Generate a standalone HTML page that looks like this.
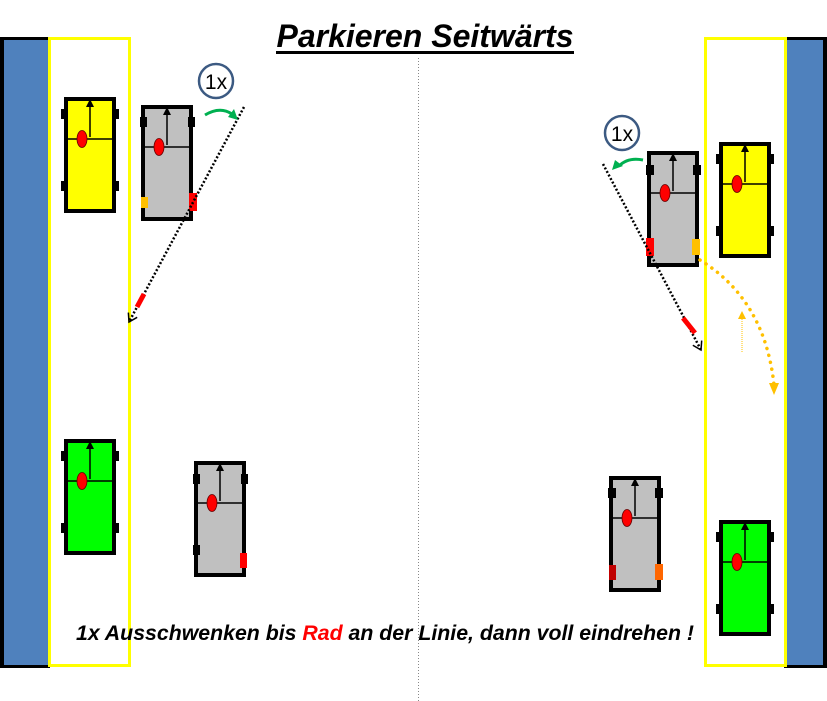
<!DOCTYPE html>
<html><head><meta charset="utf-8"><style>
html,body{margin:0;padding:0;background:#fff;}
svg{display:block;}
</style></head><body>
<svg width="827" height="701" viewBox="0 0 827 701" xmlns="http://www.w3.org/2000/svg">
<defs>
<g id="det">
 <line x1="2" y1="42" x2="50" y2="42" stroke="#000" stroke-width="1.5"/>
 <line x1="26" y1="40" x2="26" y2="9" stroke="#000" stroke-width="1.5"/>
 <polygon points="26,2 22,10 30,10" fill="#000"/>
 <ellipse cx="18" cy="42" rx="5" ry="8.5" fill="#f00" stroke="#600" stroke-width="0.8"/>
</g>
<g id="wh">
 <rect x="-3" y="12" width="7" height="10" fill="#000"/>
 <rect x="48" y="12" width="7" height="10" fill="#000"/>
 <rect x="-3" y="84" width="7" height="10" fill="#000"/>
 <rect x="48" y="84" width="7" height="10" fill="#000"/>
</g>
<marker id="ah" markerWidth="12" markerHeight="12" refX="9" refY="6" orient="auto" markerUnits="userSpaceOnUse">
 <path d="M1,1 L9,6 L1,11" fill="none" stroke="#000" stroke-width="1.5"/>
</marker>
</defs>

<rect x="0" y="37" width="50" height="631" fill="#000"/>
<rect x="4" y="40" width="44" height="625" fill="#4f81bd"/>
<rect x="49.5" y="38.5" width="80" height="627" fill="#fff" stroke="#ff0" stroke-width="3"/>
<rect x="784" y="37" width="43" height="631" fill="#000"/>
<rect x="786" y="40" width="37" height="625" fill="#4f81bd"/>
<rect x="705.5" y="38.5" width="80" height="627" fill="#fff" stroke="#ff0" stroke-width="3"/>

<line x1="418.5" y1="58" x2="418.5" y2="701" stroke="#888" stroke-width="1" stroke-dasharray="1,2"/>

<text x="425" y="47" text-anchor="middle" font-family="Liberation Sans, sans-serif" font-size="32" font-weight="bold" font-style="italic" fill="#000">Parkieren Seitwärts</text>
<rect x="276" y="51" width="298" height="3" fill="#000"/>

<g transform="translate(64,97)"><use href="#wh"/><rect x="2" y="2" width="48" height="112" fill="#ff0" stroke="#000" stroke-width="4"/><use href="#wh"/><use href="#det"/></g>
<g transform="translate(141,105)"><rect x="2" y="2" width="48" height="112" fill="#c0c0c0" stroke="#000" stroke-width="4"/><rect x="-1" y="12" width="7" height="10"/><rect x="47" y="12" width="7" height="10"/><use href="#det"/>
 <rect x="0" y="92" width="7" height="11" fill="#ffc000"/><rect x="48" y="88" width="8" height="18" fill="#f00"/></g>
<g transform="translate(64,439)"><rect x="2" y="2" width="48" height="112" fill="#0f0" stroke="#000" stroke-width="4"/><use href="#wh"/><use href="#det"/></g>
<g transform="translate(194,461)"><rect x="2" y="2" width="48" height="112" fill="#c0c0c0" stroke="#000" stroke-width="4"/><rect x="-1" y="13" width="7" height="10"/><rect x="47" y="13" width="7" height="10"/><rect x="-1" y="84" width="7" height="10"/><use href="#det"/>
 <rect x="46" y="92" width="7" height="15" fill="#f00"/></g>

<g transform="translate(647,151)"><rect x="2" y="2" width="48" height="112" fill="#c0c0c0" stroke="#000" stroke-width="4"/><rect x="-1" y="14" width="8" height="10"/><rect x="46" y="14" width="8" height="10"/><use href="#det"/>
 <rect x="-1" y="87" width="8" height="18" fill="#f00"/><rect x="45" y="88" width="8" height="16" fill="#ffc000"/></g>
<g transform="translate(719,142)"><rect x="2" y="2" width="48" height="112" fill="#ff0" stroke="#000" stroke-width="4"/><use href="#wh"/><use href="#det"/></g>
<g transform="translate(609,476)"><rect x="2" y="2" width="48" height="112" fill="#c0c0c0" stroke="#000" stroke-width="4"/><rect x="-1" y="12" width="8" height="10"/><rect x="46" y="12" width="8" height="10"/><use href="#det"/>
 <rect x="0" y="89" width="7" height="15" fill="#c00000"/><rect x="46" y="88" width="8" height="16" fill="#ff6600"/></g>
<g transform="translate(719,520)"><rect x="2" y="2" width="48" height="112" fill="#0f0" stroke="#000" stroke-width="4"/><use href="#wh"/><use href="#det"/></g>

<line x1="244" y1="107" x2="129" y2="322" stroke="#000" stroke-width="2.5" stroke-dasharray="2,2" marker-end="url(#ah)"/>
<line x1="144" y1="294" x2="137" y2="307" stroke="#f00" stroke-width="5"/>
<line x1="603" y1="164" x2="701" y2="350" stroke="#000" stroke-width="2.5" stroke-dasharray="2,2" marker-end="url(#ah)"/>
<line x1="683" y1="318" x2="695" y2="333" stroke="#f00" stroke-width="5"/>

<circle cx="216" cy="81" r="17" fill="#fff" stroke="#3c5a82" stroke-width="2.5"/>
<text x="216" y="89" text-anchor="middle" font-family="Liberation Sans, sans-serif" font-size="21" fill="#000">1x</text>
<circle cx="622" cy="133" r="17" fill="#fff" stroke="#3c5a82" stroke-width="2.5"/>
<text x="622" y="141" text-anchor="middle" font-family="Liberation Sans, sans-serif" font-size="21" fill="#000">1x</text>

<path d="M205,115 Q220,106 232,114" fill="none" stroke="#00b050" stroke-width="3"/>
<polygon points="238,120 228,117 234,109" fill="#00b050"/>
<path d="M643,160 Q628,157 619,166" fill="none" stroke="#00b050" stroke-width="3"/>
<polygon points="612,170 615,160 623,166" fill="#00b050"/>

<path d="M700,260 Q765,300 774,385" fill="none" stroke="#ffc000" stroke-width="3.5" stroke-dasharray="0.1,7" stroke-linecap="round"/>
<polygon points="769,383 779,383 774,395" fill="#ffc000"/>
<line x1="742" y1="352" x2="742" y2="318" stroke="#ffc000" stroke-width="1" stroke-dasharray="1,1"/>
<polygon points="742,311 738,319 746,319" fill="#ffc000"/>

<text x="385" y="640" text-anchor="middle" font-family="Liberation Sans, sans-serif" font-size="21" font-weight="bold" font-style="italic" fill="#000" textLength="618" lengthAdjust="spacingAndGlyphs">1x Ausschwenken bis <tspan fill="#f00">Rad</tspan> an der Linie, dann voll eindrehen !</text>
</svg>
</body></html>
